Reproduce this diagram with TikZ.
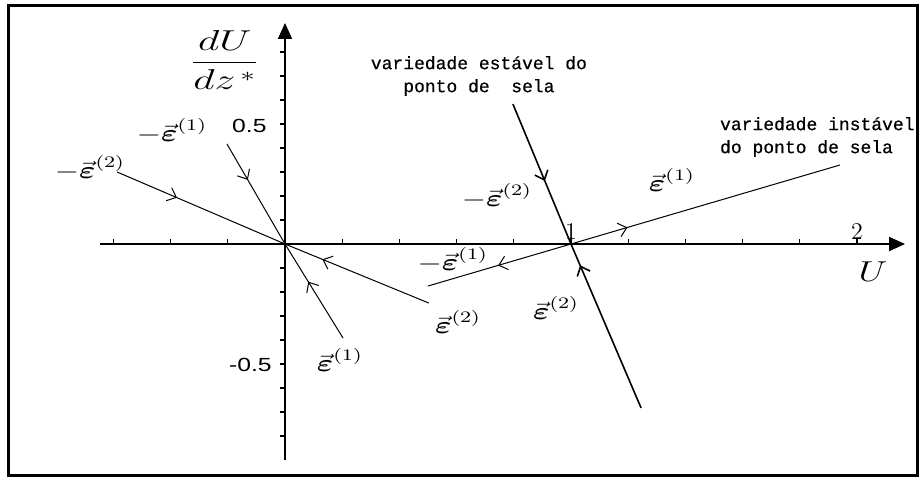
\documentclass[tikz,border=0pt]{standalone}
\usepackage{amsmath}
\usepackage{fontspec}
\usepackage{graphicx}
\usepackage{tikz}
\usetikzlibrary{positioning, arrows.meta, decorations.markings}
\setsansfont{Liberation Sans}
\newfontfamily\notefont[FakeBold=0.6]{Liberation Mono}
\newcommand{\widetxt}[1]{\scalebox{1.3}[1]{#1}}
\newcommand{\eps}{\vec{\boldsymbol{\varepsilon}}}

\begin{document}
\begin{tikzpicture}[x=143pt, y=120pt,
    axis/.style={line width=1pt, -{Triangle[length=8pt,width=7pt]}},
    eigen/.style={line width=0.5pt, postaction={decorate},
      decoration={markings, mark=at position #1 with {\arrow{Straight Barb[length=4pt,width=7pt]}}}},
    manif/.style={eigen=#1, line width=0.8pt},
    vec/.style={font=\fontsize{12}{14}\selectfont, inner sep=0pt},
    ticklbl/.style={font=\sffamily\fontsize{9.5}{10}\selectfont, inner sep=0pt},
    note/.style={font=\notefont\fontsize{9}{11.5}\selectfont, inner sep=0pt}]
    \useasboundingbox (-0.9965,-0.9708) rectangle (2.2308,1.0167);
    \draw[line width=1.5pt] (-0.9685,-0.9625) rectangle (2.2098,0.9958);

    % axes and ticks
    \draw[axis] (-0.647,0) -- (2.168,0);
    \draw[axis] (0,-0.9) -- (0,0.921);
    \foreach \i in {-3,...,10} \draw[line width=0.6pt] (\i/5,0) -- ++(0,2.5pt);
    \foreach \i in {-8,...,8} \draw[line width=0.6pt] (0,\i/10) -- ++(-2.5pt,0);
    \node[ticklbl, anchor=east] (yhi) at (-0.063,0.49) {\widetxt{0.5}};
    \node[ticklbl, anchor=east] (ylo) at (-0.045,-0.504) {\widetxt{-0.5}};
    \node[font=\fontsize{12}{12}\selectfont, inner sep=0pt] (one) at (1,0.054) {1};
    \node[font=\fontsize{12}{12}\selectfont, inner sep=0pt] (two) at (2,0.054) {2};
    \node[font=\fontsize{14}{14}\selectfont, inner sep=0pt] (ulbl) at (2.056,-0.117) {\widetxt{$U$}};
    \node[font=\fontsize{14}{16}\selectfont, inner sep=0pt] (dudz) at (-0.21,0.767) {\scalebox{1.45}[1]{$\displaystyle\frac{dU}{dz^{\,*}}$}};

    % fixed points and eigen directions
    \coordinate (O) at (0,0);
    \coordinate (P) at (1,0);
    \coordinate (a1) at (-0.203,0.417);
    \coordinate (b1) at (0.203,-0.392);
    \coordinate (a2) at (-0.587,0.3);
    \coordinate (b2) at (0.503,-0.246);
    \coordinate (s1) at (0.797,0.583);
    \coordinate (s2) at (1.245,-0.683);
    \coordinate (u1) at (0.5,-0.175);
    \coordinate (u2) at (1.94,0.329);

    \draw[eigen=0.36] (a1) -- (O);
    \draw[eigen=0.6] (b1) -- (O);
    \draw[eigen=0.357] (a2) -- (O);
    \draw[eigen=0.74] (b2) -- (O);
    \draw[manif=0.55] (s1) -- (P);
    \draw[manif=0.87] (s2) -- (P);
    \draw[eigen=0.21] (P) -- (u2);
    \draw[eigen=0.51] (P) -- (u1);

    % labels
    \node[vec] (me1) at (-0.395,0.471) {\widetxt{$-\eps^{(1)}$}};
    \node[vec] (me2) at (-0.682,0.317) {\widetxt{$-\eps^{(2)}$}};
    \node[vec] (me2s) at (0.741,0.2) {\widetxt{$-\eps^{(2)}$}};
    \node[vec] (e1s) at (1.353,0.267) {\widetxt{$\eps^{(1)}$}};
    \node[vec] (me1s) at (0.587,-0.067) {\widetxt{$-\eps^{(1)}$}};
    \node[vec] (e2) at (0.605,-0.325) {\widetxt{$\eps^{(2)}$}};
    \node[vec] (e2s) at (0.948,-0.267) {\widetxt{$\eps^{(2)}$}};
    \node[vec] (e1) at (0.192,-0.483) {\widetxt{$\eps^{(1)}$}};

    \node[note, align=center] (stab) at (0.678,0.7) {variedade estável do\\ponto de~~sela};
    \node[note, align=left, anchor=west] (unst) at (1.52,0.446) {variedade instável\\do ponto de sela};
  \end{tikzpicture}
\end{document}
